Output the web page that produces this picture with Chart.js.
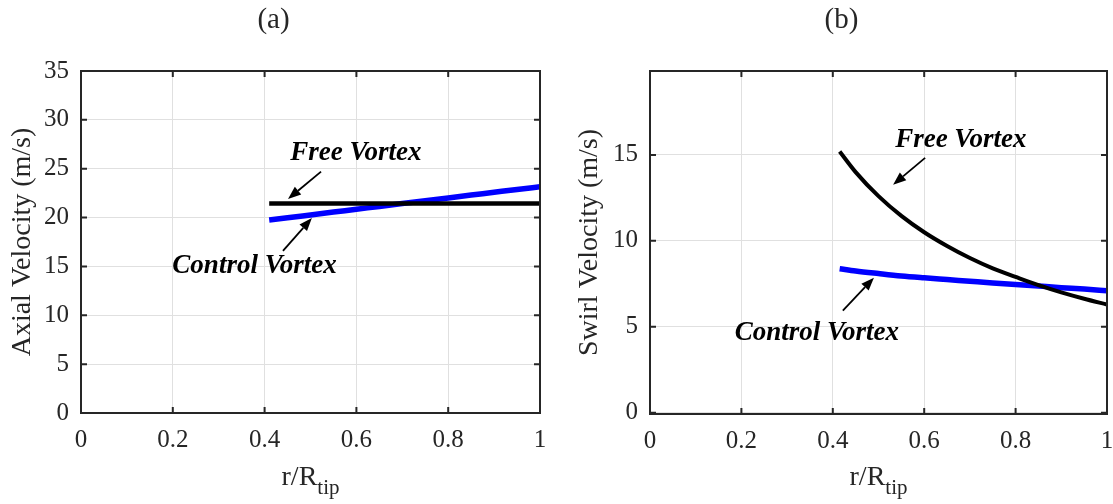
<!DOCTYPE html>
<html>
<head>
<meta charset="utf-8">
<script src="https://cdn.jsdelivr.net/npm/chart.js@4.4.1/dist/chart.umd.min.js"></script>
<style>
  html, body { margin: 0; padding: 0; background: #fff; }
  #fig { position: relative; width: 1113px; height: 504px; }
  .panel { position: absolute; top: 0; height: 504px; }
</style>
</head>
<body>
<div id="fig">
  <div class="panel" style="left:0;width:556px"><canvas id="axial"></canvas></div>
  <div class="panel" style="left:556px;width:557px"><canvas id="swirl"></canvas></div>
</div>
<script>
// radial stations r/Rtip
const radius = [0.41, 0.45, 0.5, 0.55, 0.6, 0.65, 0.7, 0.75, 0.8, 0.85, 0.9, 0.95, 1.0];

// (a) axial velocity, m/s
const freeAxial    = [21.45, 21.45, 21.45, 21.45, 21.45, 21.45, 21.45, 21.45, 21.45, 21.45, 21.45, 21.45, 21.45];
const controlAxial = [19.75, 19.98, 20.27, 20.56, 20.85, 21.14, 21.43, 21.72, 22.01, 22.3, 22.59, 22.88, 23.15];

// (b) swirl velocity, m/s
const swirlRadius  = [0.415, 0.45, 0.5, 0.55, 0.6, 0.65, 0.7, 0.75, 0.8, 0.85, 0.9, 0.95, 1.0];
const freeSwirl    = [15.2, 14.0, 12.6, 11.45, 10.5, 9.7, 9.0, 8.4, 7.9, 7.42, 7.0, 6.63, 6.3];
const controlSwirl = [8.38, 8.25, 8.1, 7.96, 7.85, 7.75, 7.65, 7.55, 7.46, 7.37, 7.28, 7.2, 7.1];

const xTicks = [0, 0.2, 0.4, 0.6, 0.8, 1];
const axialTicks = [0, 5, 10, 15, 20, 25, 30, 35];
const swirlTicks = [0, 5, 10, 15];

const SERIF = "'Liberation Serif', 'Times New Roman', serif";
const INK = '#262626';
const GRID = '#e0e0e0';

function pts(xs, ys) { return xs.map((v, i) => ({ x: v, y: ys[i] })); }

// box, inward ticks, panel letter, x label with subscript, arrow notes
const decor = {
  id: 'decor',
  afterDraw(chart, args, o) {
    const { ctx, chartArea: a, scales: { x, y } } = chart;
    const tl = 6;
    ctx.save();
    ctx.strokeStyle = INK;
    ctx.lineWidth = 2;
    ctx.beginPath();
    xTicks.forEach(v => {
      const px = x.getPixelForValue(v);
      ctx.moveTo(px, a.bottom); ctx.lineTo(px, a.bottom - tl);
      ctx.moveTo(px, a.top); ctx.lineTo(px, a.top + tl);
    });
    o.yTicks.forEach(v => {
      const py = y.getPixelForValue(v);
      ctx.moveTo(a.left, py); ctx.lineTo(a.left + tl, py);
      ctx.moveTo(a.right, py); ctx.lineTo(a.right - tl, py);
    });
    ctx.stroke();
    ctx.strokeRect(a.left, a.top, a.right - a.left, a.bottom - a.top);

    const cx = (a.left + a.right) / 2;

    // panel letter
    ctx.fillStyle = INK;
    ctx.textAlign = 'center';
    ctx.textBaseline = 'middle';
    ctx.font = '29px ' + SERIF;
    ctx.fillText(o.letter, cx - 37, 20);

    // r/R_tip
    ctx.textAlign = 'left';
    ctx.textBaseline = 'alphabetic';
    ctx.font = '28px ' + SERIF;
    const w1 = ctx.measureText('r/R').width;
    ctx.font = '21px ' + SERIF;
    const w2 = ctx.measureText('tip').width;
    const sx = cx - (w1 + w2) / 2;
    ctx.font = '28px ' + SERIF;
    ctx.fillText('r/R', sx, 485);
    ctx.font = '21px ' + SERIF;
    ctx.fillText('tip', sx + w1, 494);

    // notes with arrows
    ctx.fillStyle = '#000';
    ctx.strokeStyle = '#000';
    o.notes.forEach(n => {
      ctx.font = 'italic bold 27px ' + SERIF;
      ctx.textAlign = 'center';
      ctx.textBaseline = 'middle';
      ctx.fillText(n.text, x.getPixelForValue(n.at[0]), y.getPixelForValue(n.at[1]));
      const x0 = x.getPixelForValue(n.from[0]), y0 = y.getPixelForValue(n.from[1]);
      const x1 = x.getPixelForValue(n.to[0]), y1 = y.getPixelForValue(n.to[1]);
      const ang = Math.atan2(y1 - y0, x1 - x0);
      const hl = 13, hw = 5;
      const bx = x1 - hl * Math.cos(ang), by = y1 - hl * Math.sin(ang);
      ctx.lineWidth = 1.8;
      ctx.beginPath();
      ctx.moveTo(x0, y0); ctx.lineTo(bx, by);
      ctx.stroke();
      ctx.beginPath();
      ctx.moveTo(x1, y1);
      ctx.lineTo(bx + hw * Math.sin(ang), by - hw * Math.cos(ang));
      ctx.lineTo(bx - hw * Math.sin(ang), by + hw * Math.cos(ang));
      ctx.closePath();
      ctx.fill();
    });
    ctx.restore();
  }
};

function makeChart(id, cfg) {
  return new Chart(document.getElementById(id), {
    type: 'scatter',
    data: {
      datasets: [
        { data: cfg.free, borderColor: '#000', borderWidth: cfg.freeWidth, showLine: true,
          pointRadius: 0, tension: cfg.tension, cubicInterpolationMode: 'monotone', order: 0 },
        { data: cfg.control, borderColor: '#0000ff', borderWidth: 5.5, showLine: true,
          pointRadius: 0, tension: cfg.tension, cubicInterpolationMode: 'monotone', order: 1 }
      ]
    },
    options: {
      responsive: true,
      maintainAspectRatio: false,
      animation: false,
      events: [],
      layout: { padding: { top: 71, right: cfg.padRight, left: 0, bottom: 0 } },
      plugins: {
        legend: { display: false },
        tooltip: { enabled: false },
        decor: { letter: cfg.letter, notes: cfg.notes, yTicks: cfg.yTicks }
      },
      scales: {
        x: {
          type: 'linear', min: 0, max: 1,
          afterBuildTicks: s => { s.ticks = xTicks.map(v => ({ value: v })); },
          afterFit: s => { s.height = cfg.xHeight; s.paddingLeft = 0; s.paddingRight = 0; },
          grid: { color: GRID, lineWidth: 1, drawTicks: false },
          border: { display: false },
          ticks: { color: INK, padding: 12, font: { family: SERIF, size: 25 }, maxRotation: 0,
                   callback: v => String(v) }
        },
        y: {
          type: 'linear', min: cfg.yMin, max: cfg.yMax,
          afterBuildTicks: s => { s.ticks = cfg.yTicks.map(v => ({ value: v })); },
          afterFit: s => { s.width = cfg.yWidth; s.paddingTop = 0; s.paddingBottom = 0; },
          grid: { color: GRID, lineWidth: 1, drawTicks: false },
          border: { display: false },
          ticks: { color: INK, padding: 12, font: { family: SERIF, size: 25 },
                   callback: v => String(v) },
          title: { display: true, text: cfg.yTitle, color: INK,
                   font: { family: SERIF, size: 28 }, padding: { top: cfg.yTitlePad, bottom: 0 } }
        }
      }
    },
    plugins: [decor]
  });
}

makeChart('axial', {
  letter: '(a)',
  free: pts(radius, freeAxial),
  control: pts(radius, controlAxial),
  freeWidth: 4.5, tension: 0,
  yMin: 0, yMax: 35, yTicks: axialTicks,
  yTitle: 'Axial Velocity (m/s)', yTitlePad: 6,
  yWidth: 81, xHeight: 91, padRight: 16,
  notes: [
    { text: 'Free Vortex', at: [0.599, 26.6], from: [0.523, 24.7], to: [0.451, 21.9] },
    { text: 'Control Vortex', at: [0.378, 15.0], from: [0.44, 16.6], to: [0.503, 19.95] }
  ]
});

makeChart('swirl', {
  letter: '(b)',
  free: pts(swirlRadius, freeSwirl),
  control: pts(swirlRadius, controlSwirl),
  freeWidth: 4, tension: 0.4,
  yMin: -0.07, yMax: 19.88, yTicks: swirlTicks,
  yTitle: 'Swirl Velocity (m/s)', yTitlePad: 17,
  yWidth: 94, xHeight: 90, padRight: 6,
  notes: [
    { text: 'Free Vortex', at: [0.68, 15.87], from: [0.602, 14.83], to: [0.532, 13.26] },
    { text: 'Control Vortex', at: [0.365, 4.66], from: [0.422, 5.94], to: [0.49, 7.86] }
  ]
});
</script>
</body>
</html>
